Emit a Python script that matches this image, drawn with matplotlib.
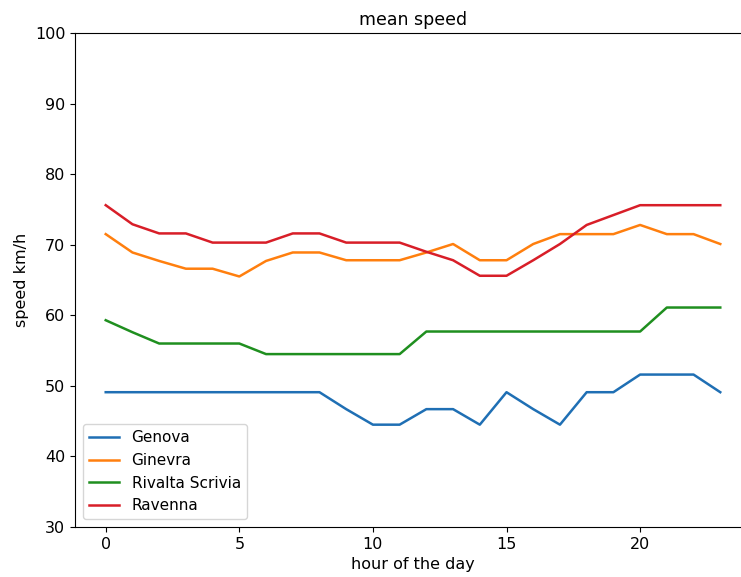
import matplotlib as mpl
mpl.use('Agg')
import matplotlib.pyplot as plt
import numpy as np

hours = list(range(24))

genova = [49.1, 49.1, 49.1, 49.1, 49.1, 49.1, 49.1, 49.1, 49.1, 46.7, 44.5, 44.5,
          46.7, 46.7, 44.5, 49.1, 46.7, 44.5, 49.1, 49.1, 51.6, 51.6, 51.6, 49.1]
ginevra = [71.5, 68.9, 67.7, 66.6, 66.6, 65.5, 67.7, 68.9, 68.9, 67.8, 67.8, 67.8,
           68.9, 70.1, 67.8, 67.8, 70.1, 71.5, 71.5, 71.5, 72.8, 71.5, 71.5, 70.1]
rivalta = [59.3, 57.6, 56.0, 56.0, 56.0, 56.0, 54.5, 54.5, 54.5, 54.5, 54.5, 54.5,
           57.7, 57.7, 57.7, 57.7, 57.7, 57.7, 57.7, 57.7, 57.7, 61.1, 61.1, 61.1]
ravenna = [75.6, 72.9, 71.6, 71.6, 70.3, 70.3, 70.3, 71.6, 71.6, 70.3, 70.3, 70.3,
           69.0, 67.8, 65.6, 65.6, 67.8, 70.1, 72.8, 74.2, 75.6, 75.6, 75.6, 75.6]

names = ["Genova", "Ginevra", "Rivalta Scrivia", "Ravenna"]
series = [genova, ginevra, rivalta, ravenna]
colors = ['#1f6fb4', '#ff7f0e', '#1f8f1f', '#d81e28']

plt.rcParams['font.size'] = 11.5

fig = plt.figure(figsize=[7.41, 5.77], dpi=100)
# axes run a little past the right edge of the canvas
ax = fig.add_axes([75/741, 50/577, 676/741, 494/577])

for name, vals, c in zip(names, series, colors):
    ax.plot(hours, vals, label=name, color=c, linewidth=1.8)

ax.set_ylim(30, 100)
ax.set_xticks([0, 5, 10, 15, 20])
ax.set_title("mean speed", fontsize=12.5)
ax.set_xlabel("hour of the day")
ax.set_ylabel("speed km/h")
ax.legend(loc='lower left', fontsize=11)

plt.savefig("out.png", dpi=100)
plt.close()
